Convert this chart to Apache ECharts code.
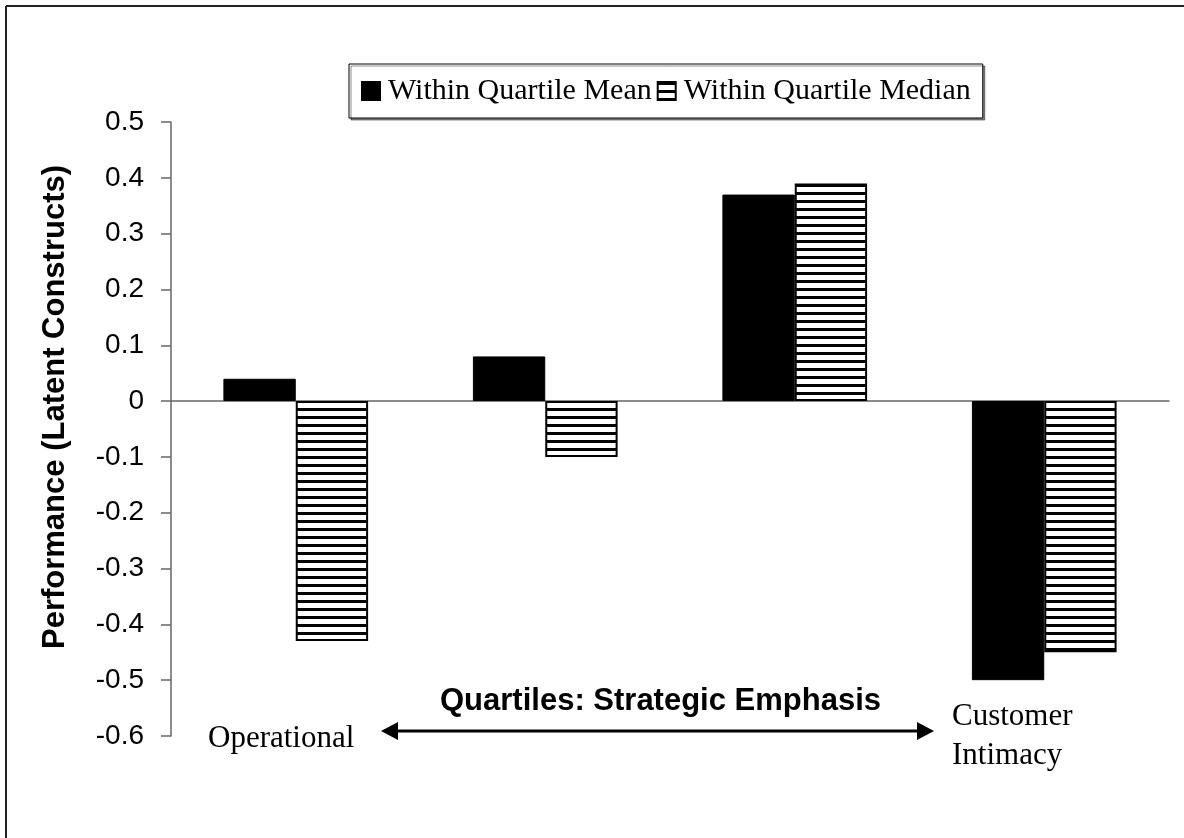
<!DOCTYPE html>
<html>
<head>
<meta charset="utf-8">
<script src="https://cdn.jsdelivr.net/npm/echarts@6/dist/echarts.min.js"></script>
<style>
html,body{margin:0;padding:0;background:#fff;}
#chart{width:1184px;height:838px;}
</style>
</head>
<body>
<div id="chart"></div>
<script>
// ---- data ----
const categories = ['Quartile 1', 'Quartile 2', 'Quartile 3', 'Quartile 4'];
const meanValues = [0.04, 0.08, 0.37, -0.50];
const medianValues = [-0.43, -0.10, 0.39, -0.45];
const seriesNames = ['Within Quartile Mean', 'Within Quartile Median'];
const yTitle = 'Performance (Latent Constructs)';
const xTitle = 'Quartiles: Strategic Emphasis';
const leftEndLabel = 'Operational';
const rightEndLabel = 'Customer\nIntimacy';

// horizontal stripe pattern
const pc = document.createElement('canvas');
pc.width = 8; pc.height = 8;
const pctx = pc.getContext('2d');
pctx.fillStyle = '#fff'; pctx.fillRect(0, 0, 8, 8);
pctx.fillStyle = '#000'; pctx.fillRect(0, 0, 8, 3);
const stripe = { image: pc, repeat: 'repeat' };

const chart = echarts.init(document.getElementById('chart'));
const serif = '"Liberation Serif", "Times New Roman", serif';
const sans = '"Liberation Sans", Arial, sans-serif';

chart.setOption({
  animation: false,
  backgroundColor: '#fff',
  grid: { left: 171, right: 15, top: 122, bottom: 102 },
  legend: {
    left: 349, top: 64,
    padding: [11, 12, 11, 12],
    itemWidth: 18, itemHeight: 18, itemGap: 5,
    borderColor: '#000', borderWidth: 1,
    backgroundColor: '#fff',
    shadowColor: 'rgba(0,0,0,0.45)', shadowOffsetX: 2, shadowOffsetY: 2, shadowBlur: 0,
    icon: 'rect',
    textStyle: { fontFamily: serif, fontSize: 30, color: '#000', lineHeight: 30, padding: [2, 0, 0, 3] },
    data: seriesNames
  },
  xAxis: {
    type: 'category',
    data: categories,
    axisLine: { onZero: true, lineStyle: { color: '#666', width: 1.5 } },
    axisTick: { show: false },
    axisLabel: { show: false },
    splitLine: { show: false }
  },
  yAxis: {
    type: 'value',
    min: -0.6, max: 0.5, interval: 0.1,
    axisLine: { show: true, lineStyle: { color: '#666', width: 1.5 } },
    axisTick: { show: true, inside: false, length: 10, lineStyle: { color: '#666', width: 1.5 } },
    axisLabel: {
      fontFamily: sans, fontSize: 28, color: '#000', margin: 27,
      formatter: v => (Math.abs(v) < 1e-9 ? '0' : v.toFixed(1))
    },
    splitLine: { show: false }
  },
  series: [
    {
      name: seriesNames[0], type: 'bar', data: meanValues,
      barGap: '0%', barCategoryGap: '42%',
      itemStyle: { color: '#000', borderColor: '#000', borderWidth: 1 }
    },
    {
      name: seriesNames[1], type: 'bar', data: medianValues,
      barGap: '0%', barCategoryGap: '42%',
      itemStyle: { color: stripe, borderColor: '#000', borderWidth: 2 }
    }
  ],
  graphic: [
    { type: 'line', shape: { x1: 6, y1: 6, x2: 1184, y2: 6 }, style: { stroke: '#222', lineWidth: 2 } },
    { type: 'line', shape: { x1: 6, y1: 6, x2: 6, y2: 838 }, style: { stroke: '#222', lineWidth: 2 } },
    { type: 'text', x: 55, y: 407, rotation: Math.PI / 2,
      style: { text: yTitle, font: 'bold 31px ' + sans, fill: '#000', textAlign: 'center', textVerticalAlign: 'middle' } },
    { type: 'text', left: 208, top: 723, style: { text: leftEndLabel, font: '31px ' + serif, fill: '#000' } },
    { type: 'text', left: 952, top: 697, style: { text: rightEndLabel, font: '31px ' + serif, fill: '#000', lineHeight: 39 } },
    { type: 'text', left: 440, top: 686, style: { text: xTitle, font: 'bold 31px ' + sans, fill: '#000' } },
    { type: 'line', shape: { x1: 395, y1: 731, x2: 920, y2: 731 }, style: { stroke: '#000', lineWidth: 3 } },
    { type: 'polygon', shape: { points: [[381, 731], [398, 722], [398, 740]] }, style: { fill: '#000' } },
    { type: 'polygon', shape: { points: [[934, 731], [917, 722], [917, 740]] }, style: { fill: '#000' } }
  ]
});
</script>
</body>
</html>
